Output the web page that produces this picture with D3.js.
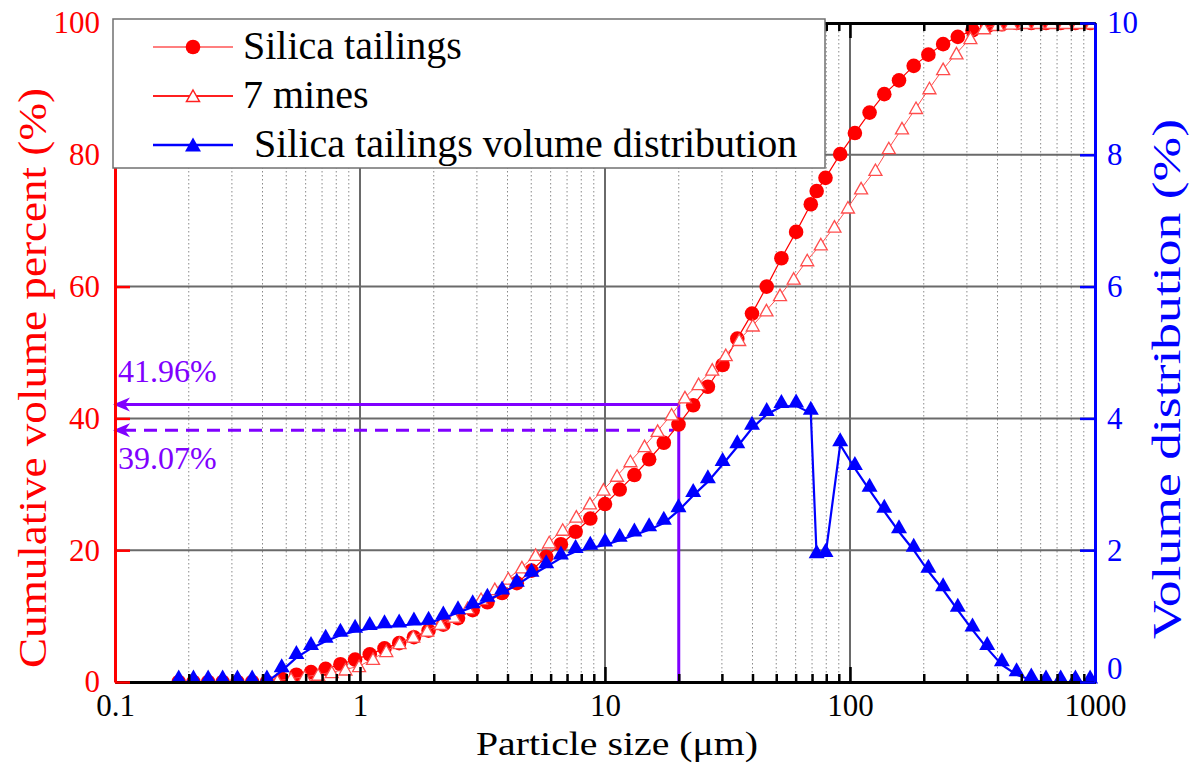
<!DOCTYPE html>
<html>
<head>
<meta charset="utf-8">
<script src="https://cdn.jsdelivr.net/npm/d3@7.9.0/dist/d3.min.js"></script>
<style>
  body { margin: 0; background: #fff; }
</style>
</head>
<body>
<svg id="chart" width="1198" height="764"></svg>
<script>
// silica tailings: particle size (um), cumulative volume (%), volume distribution (%)
const silicaSizes = [0.182, 0.209, 0.240, 0.275, 0.316, 0.363, 0.417, 0.479, 0.550, 0.631, 0.724, 0.832, 0.955,
  1.096, 1.259, 1.445, 1.660, 1.905, 2.188, 2.512, 2.884, 3.311, 3.802, 4.365, 5.012, 5.754, 6.607, 7.586, 8.710,
  10.00, 11.48, 13.18, 15.14, 17.38, 19.95, 22.91, 26.30, 30.20, 34.67, 39.81, 45.71, 52.48, 60.26, 69.18, 73.1,
  79.43, 91.20, 104.7, 120.2, 138.0, 158.5, 182.0, 208.9, 239.9, 275.4, 316.2, 363.1, 416.9, 478.6, 549.5, 631.0,
  724.4, 831.8, 955.0];
const silicaCumulative = [0, 0, 0, 0, 0, 0, 0, 0.5, 1.1, 1.5, 2.0, 2.7, 3.4,
  4.2, 5.1, 5.9, 6.8, 7.8, 8.7, 9.7, 10.9, 12.1, 13.5, 15.0, 16.9, 19.0, 20.9, 22.8, 24.8,
  27.0, 29.2, 31.4, 33.8, 36.3, 39.07, 42.0, 44.8, 48.1, 52.1, 55.9, 60.0, 64.3, 68.3, 72.5, 74.5,
  76.5, 80.1, 83.3, 86.4, 89.2, 91.3, 93.5, 95.2, 96.8, 97.9, 98.9, 99.5, 99.8, 100, 100, 100,
  100, 100, 100];
const silicaDistribution = [0, 0, 0, 0, 0, 0, 0, 0.17, 0.37, 0.51, 0.62, 0.71, 0.77,
  0.81, 0.84, 0.85, 0.88, 0.89, 0.97, 1.05, 1.14, 1.24, 1.35, 1.47, 1.62, 1.75, 1.88, 1.98, 2.03,
  2.08, 2.15, 2.23, 2.31, 2.41, 2.60, 2.83, 3.04, 3.30, 3.57, 3.85, 4.06, 4.18, 4.19, 4.08, 1.90,
  1.92, 3.60, 3.24, 2.91, 2.59, 2.28, 2.00, 1.68, 1.40, 1.09, 0.79, 0.51, 0.26, 0.11, 0.03, 0,
  0, 0, 0];

// 7 mines: particle size (um), cumulative volume (%)
const minesSizes = [0.46, 0.523, 0.594, 0.675, 0.767, 0.872, 0.991, 1.13, 1.28, 1.45, 1.65, 1.88,
  2.13, 2.42, 2.75, 3.12, 3.55, 4.03, 4.58, 5.21, 5.92, 6.72, 7.64, 8.68, 9.86,
  11.2, 12.7, 14.5, 16.4, 18.7, 21.2, 24.1, 27.4, 31.1, 35.3, 40.1, 45.6, 51.8, 58.9, 66.9, 76.0, 86.4,
  98.1, 111, 127, 144, 163, 186, 211, 240, 272, 310, 352, 400, 454, 516, 586, 666, 756, 859, 976];
const minesCumulative = [0.2, 0.5, 0.8, 1.1, 1.5, 1.9, 2.4, 3.5, 4.7, 5.9, 6.9, 7.8,
  8.8, 9.9, 11.2, 12.6, 14.1, 15.7, 17.4, 19.3, 21.2, 23.1, 25.1, 27.1, 29.2,
  31.3, 33.5, 35.8, 38.1, 40.6, 43.2, 45.2, 47.4, 49.6, 51.9, 54.1, 56.4, 58.7, 61.2, 64.0, 66.4, 69.1,
  72.0, 74.9, 77.7, 81.0, 84.0, 87.1, 90.1, 93.0, 95.4, 97.7, 99.2, 99.7, 99.9, 100, 100, 100, 100, 100, 100];

// axis ticks
const xMajorTicks = [0.1, 1, 10, 100, 1000];
const leftTicks = [0, 20, 40, 60, 80, 100];
const rightTicks = [0, 2, 4, 6, 8, 10];

// 20 um read-off lines
const markSize = 20;
const markLevels = [42.1, 38.2];
const markLabels = ['41.96%', '39.07%'];

const legendLabels = ['Silica tailings', '7 mines', 'Silica tailings volume distribution'];

const fontStyle = "font-family: 'Liberation Serif', 'Times New Roman', 'DejaVu Serif', serif";
const svg = d3.select('#chart');
const plot = { left: 115, right: 1095, top: 23, bottom: 682 };
const purple = '#8000ff';

const x = d3.scaleLog().domain([0.1, 1000]).range([plot.left, plot.right]);
const yL = d3.scaleLinear().domain([0, 100]).range([plot.bottom, plot.top]);
const yR = d3.scaleLinear().domain([0, 10]).range([plot.bottom, plot.top]);

const isDecade = t => Math.abs(Math.log10(t) - Math.round(Math.log10(t))) < 1e-9;
const xMinorTicks = x.ticks().filter(t => !isDecade(t));

svg.append('defs').append('clipPath').attr('id', 'plot-clip')
  .append('rect')
  .attr('x', plot.left).attr('y', plot.top)
  .attr('width', plot.right - plot.left).attr('height', plot.bottom - plot.top);

// grid
const grid = svg.append('g');
grid.selectAll('.minor').data(xMinorTicks).join('line')
  .attr('x1', d => x(d)).attr('x2', d => x(d))
  .attr('y1', plot.top).attr('y2', plot.bottom)
  .attr('stroke', '#8a8a8a').attr('stroke-width', 1).attr('stroke-dasharray', '1.5,2.5');
grid.selectAll('.vmajor').data(xMajorTicks.slice(1, -1)).join('line')
  .attr('x1', d => x(d)).attr('x2', d => x(d))
  .attr('y1', plot.top).attr('y2', plot.bottom)
  .attr('stroke', '#6a6a6a').attr('stroke-width', 2);
grid.selectAll('.hmajor').data(leftTicks.slice(1, -1)).join('line')
  .attr('x1', plot.left).attr('x2', plot.right)
  .attr('y1', d => yL(d)).attr('y2', d => yL(d))
  .attr('stroke', '#6a6a6a').attr('stroke-width', 2);

// purple read-off lines
const mark = svg.append('g');
mark.append('line')
  .attr('x1', x(markSize)).attr('x2', x(markSize))
  .attr('y1', yL(0)).attr('y2', yL(markLevels[0]))
  .attr('stroke', purple).attr('stroke-width', 3);
markLevels.forEach((lv, i) => {
  const y = yL(lv);
  const tip = x(0.1) - 2;
  mark.append('line')
    .attr('x1', tip + 10).attr('x2', i === 0 ? x(markSize) : x(markSize) - 5)
    .attr('y1', y).attr('y2', y)
    .attr('stroke', purple).attr('stroke-width', 3)
    .attr('stroke-dasharray', i === 0 ? null : '13,8');
  mark.append('path')
    .attr('d', `M${tip},${y} L${tip + 17},${y - 7} L${tip + 12},${y} L${tip + 17},${y + 7} Z`)
    .attr('fill', purple);
  mark.append('text')
    .attr('style', fontStyle)
    .attr('x', 118).attr('y', i === 0 ? y - 23 : y + 39)
    .attr('font-size', 32).attr('fill', purple)
    .text(markLabels[i]);
});

// series
const silica = silicaSizes.map((s, i) => ({ s, v: silicaCumulative[i], d: silicaDistribution[i] }));
const mines = minesSizes.map((s, i) => ({ s, v: minesCumulative[i] }));

const openTri = 'M0,-6 L6.5,5.5 L-6.5,5.5 Z';
const blueTri = 'M0,-12.5 L8,1.5 L-8,1.5 Z';

const redLayer = svg.append('g').attr('clip-path', 'url(#plot-clip)');
redLayer.append('path').datum(silica)
  .attr('d', d3.line().x(d => x(d.s)).y(d => yL(d.v)))
  .attr('fill', 'none').attr('stroke', '#ff0000').attr('stroke-width', 1.2);
redLayer.selectAll('.dot').data(silica).join('circle')
  .attr('cx', d => x(d.s)).attr('cy', d => yL(d.v)).attr('r', 7.3)
  .attr('fill', '#ff0000');
redLayer.append('path').datum(mines)
  .attr('d', d3.line().x(d => x(d.s)).y(d => yL(d.v)))
  .attr('fill', 'none').attr('stroke', '#ff5050').attr('stroke-width', 1);
redLayer.selectAll('.tri').data(mines).join('path')
  .attr('transform', d => `translate(${x(d.s)},${yL(d.v)})`)
  .attr('d', openTri)
  .attr('fill', '#fff').attr('stroke', '#ff4d4d').attr('stroke-width', 1.3);

const blueLayer = svg.append('g');
blueLayer.append('path').datum(silica)
  .attr('d', d3.line().x(d => x(d.s)).y(d => yR(d.d)))
  .attr('fill', 'none').attr('stroke', '#0000ff').attr('stroke-width', 2.2);
blueLayer.selectAll('.btri').data(silica).join('path')
  .attr('transform', d => `translate(${x(d.s)},${yR(d.d)})`)
  .attr('d', blueTri)
  .attr('fill', '#0000ff');

// axes
function styleAxis(g, color) {
  g.select('.domain').attr('stroke', color).attr('stroke-width', 3);
  g.selectAll('.tick line').attr('stroke', color).attr('stroke-width', 2.5);
  g.selectAll('.tick text').attr('style', fontStyle).attr('fill', color).attr('font-size', 31);
}

const fmtX = d => d < 1 ? String(d) : d3.format('d')(d);

svg.append('g').attr('transform', `translate(0,${plot.bottom})`)
  .call(d3.axisBottom(x).tickValues(xMinorTicks).tickSize(-8).tickSizeOuter(0).tickFormat(''))
  .call(g => styleAxis(g, '#000'));
svg.append('g').attr('transform', `translate(0,${plot.bottom})`)
  .call(d3.axisBottom(x).tickValues(xMajorTicks).tickSize(-15).tickSizeOuter(0).tickPadding(12).tickFormat(fmtX))
  .call(g => styleAxis(g, '#000'));
svg.append('g').attr('transform', `translate(0,${plot.top})`)
  .call(d3.axisTop(x).tickValues(xMinorTicks).tickSize(-8).tickSizeOuter(0).tickFormat(''))
  .call(g => styleAxis(g, '#000'));
svg.append('g').attr('transform', `translate(0,${plot.top})`)
  .call(d3.axisTop(x).tickValues(xMajorTicks).tickSize(-15).tickSizeOuter(0).tickFormat(''))
  .call(g => styleAxis(g, '#000'));
svg.append('g').attr('transform', `translate(${plot.left},0)`)
  .call(d3.axisLeft(yL).tickValues(leftTicks).tickSize(-15).tickSizeOuter(0).tickPadding(15).tickFormat(d3.format('d')))
  .call(g => styleAxis(g, '#ff0000'));
svg.append('g').attr('transform', `translate(${plot.right},0)`)
  .call(d3.axisRight(yR).tickValues(rightTicks).tickSize(-15).tickSizeOuter(0).tickPadding(12).tickFormat(d3.format('d')))
  .call(g => styleAxis(g, '#0000ff'))
  .call(g => g.selectAll('.tick text').attr('dy', d => d === 0 ? '-0.1em' : '0.32em'));

// axis titles
svg.append('text')
  .attr('style', fontStyle)
  .attr('x', 617).attr('y', 755).attr('text-anchor', 'middle')
  .attr('font-size', 33).attr('fill', '#000')
  .attr('textLength', 282).attr('lengthAdjust', 'spacingAndGlyphs')
  .text('Particle size (\u03bcm)');
svg.append('text')
  .attr('style', fontStyle)
  .attr('transform', 'translate(46,378) rotate(-90)').attr('text-anchor', 'middle')
  .attr('font-size', 40).attr('fill', '#ff0000')
  .attr('textLength', 580).attr('lengthAdjust', 'spacingAndGlyphs')
  .text('Cumulative volume percent (%)');
svg.append('text')
  .attr('style', fontStyle)
  .attr('transform', 'translate(1180,379) rotate(-90)').attr('text-anchor', 'middle')
  .attr('font-size', 40).attr('fill', '#0000ff')
  .attr('textLength', 520).attr('lengthAdjust', 'spacingAndGlyphs')
  .text('Volume distribution (%)');

// legend
const legend = svg.append('g');
legend.append('rect')
  .attr('x', 113).attr('y', 19).attr('width', 712).attr('height', 149)
  .attr('fill', '#fff').attr('stroke', '#707070').attr('stroke-width', 1.5);
const rowY = [47, 96, 145];
const lineColors = ['#ff0000', '#ff2020', '#0000ff'];
const lineWidths = [1.2, 2, 2.5];
rowY.forEach((ry, i) => {
  legend.append('line')
    .attr('x1', 153).attr('x2', 233).attr('y1', ry).attr('y2', ry)
    .attr('stroke', lineColors[i]).attr('stroke-width', lineWidths[i]);
  legend.append('text')
    .attr('style', fontStyle)
    .attr('x', i === 2 ? 254 : 243).attr('y', ry + 12)
    .attr('font-size', 40).attr('fill', '#000')
    .text(legendLabels[i]);
});
legend.append('circle').attr('cx', 193).attr('cy', rowY[0]).attr('r', 7.3).attr('fill', '#ff0000');
legend.append('path').attr('transform', `translate(193,${rowY[1]})`).attr('d', openTri)
  .attr('fill', '#fff').attr('stroke', '#ff2020').attr('stroke-width', 1.5);
legend.append('path').attr('transform', `translate(193,${rowY[2] + 5})`).attr('d', blueTri)
  .attr('fill', '#0000ff');
</script>
</body>
</html>
